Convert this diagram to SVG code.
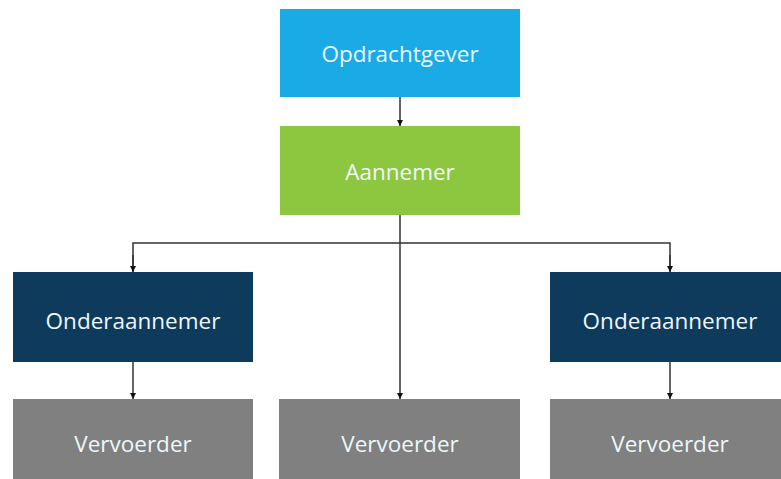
<svg xmlns="http://www.w3.org/2000/svg" width="781" height="479" viewBox="0 0 781 479">
<style>
.lbl{font-family:"Open Sans","Liberation Sans",sans-serif;font-size:22.5px;font-weight:500;fill:#eef7fb;text-anchor:middle;dominant-baseline:central}
.con{stroke:#333;stroke-width:1.5;fill:none}
</style>
<defs>
<marker id="ah" viewBox="0 0 10 10" refX="10" refY="5" markerWidth="6" markerHeight="6" markerUnits="userSpaceOnUse" orient="auto">
<path d="M0,0 L10,5 L0,10 z" fill="#111"/>
</marker>
</defs>
<rect width="781" height="479" fill="#fff"/>
<g id="connectors">
<line class="con" x1="400" y1="97" x2="400" y2="126" marker-end="url(#ah)"/>
<line class="con" x1="400" y1="215" x2="400" y2="399" marker-end="url(#ah)"/>
<polyline class="con" points="133,272 133,243 670,243 670,272"/>
<line class="con" x1="133" y1="255" x2="133" y2="272" marker-end="url(#ah)"/>
<line class="con" x1="670" y1="255" x2="670" y2="272" marker-end="url(#ah)"/>
<line class="con" x1="133" y1="362" x2="133" y2="399" marker-end="url(#ah)"/>
<line class="con" x1="670" y1="362" x2="670" y2="399" marker-end="url(#ah)"/>
</g>
<g id="opdrachtgever"><rect x="280" y="9" width="240" height="88" fill="#1aabe6"/><text class="lbl" x="400" y="53">Opdrachtgever</text></g>
<g id="aannemer"><rect x="280" y="126" width="240" height="89" fill="#8dc63f"/><text class="lbl" x="400" y="171">Aannemer</text></g>
<g id="onder-links"><rect x="13" y="272" width="240" height="90" fill="#0e3a5c"/><text class="lbl" x="133" y="320">Onderaannemer</text></g>
<g id="onder-rechts"><rect x="550" y="272" width="240" height="90" fill="#0e3a5c"/><text class="lbl" x="670" y="320">Onderaannemer</text></g>
<g id="vervoerder-links"><rect x="13" y="399" width="240" height="90" fill="#808080"/><text class="lbl" x="133" y="443">Vervoerder</text></g>
<g id="vervoerder-midden"><rect x="279" y="399" width="241" height="90" fill="#808080"/><text class="lbl" x="400" y="443">Vervoerder</text></g>
<g id="vervoerder-rechts"><rect x="550" y="399" width="240" height="90" fill="#808080"/><text class="lbl" x="670" y="443">Vervoerder</text></g>
</svg>
